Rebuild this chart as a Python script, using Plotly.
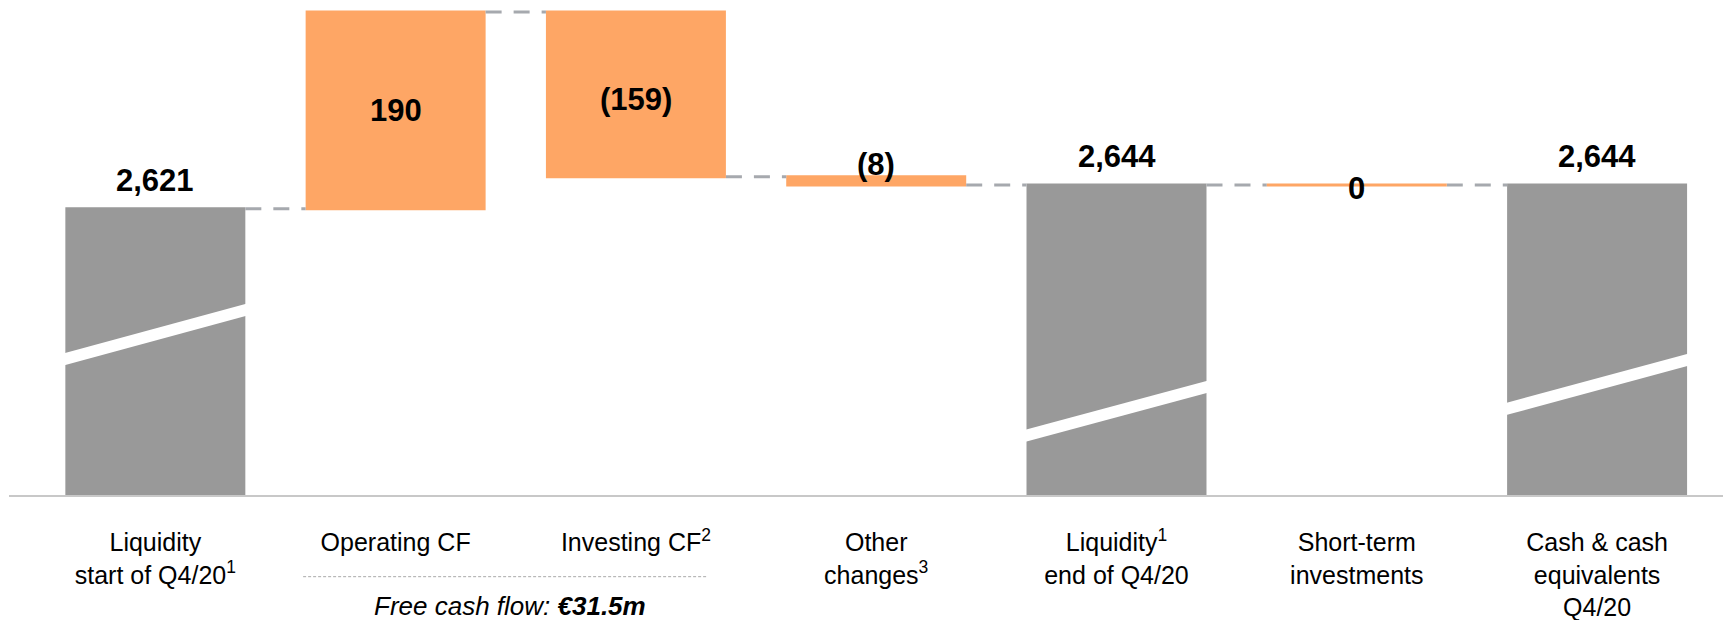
import plotly.graph_objects as go

# ---------------- data ----------------
categories = [
    "Liquidity<br>start of Q4/20<sup>1</sup>",
    "Operating CF",
    "Investing CF<sup>2</sup>",
    "Other<br>changes<sup>3</sup>",
    "Liquidity<sup>1</sup><br>end of Q4/20",
    "Short-term<br>investments",
    "Cash & cash<br>equivalents<br>Q4/20",
]
values = [2621, 190, -159, -8, 2644, 0, 2644]
measures = ["absolute", "relative", "relative", "relative", "total", "relative", "total"]
free_cash_flow = 31.5

# ---------------- styles ----------------
ORANGE = "#FEA665"
GREY = "#999999"
CONNECTOR = "#A6A9AE"
FONT = "Arial, Liberation Sans, sans-serif"
BAR_W = 0.749

label_mode = ["above", "inside", "inside", "above", "above", "center", "above"]
label_shift = [9, 0, -5, -7, 9, -4, 9]

# running levels (for label placement)
starts, ends = [], []
running = 0
for v, m in zip(values, measures):
    if m == "absolute":
        s, e = 0, v
        running = v
    elif m == "total":
        s, e = 0, running
    else:
        s, e = running, running + v
        running = e
    starts.append(s)
    ends.append(e)


def fmt(v, m):
    if m in ("absolute", "total"):
        return f"{v:,}"
    return f"({abs(v):,})" if v < 0 else f"{v:,}"


fig = go.Figure()
fig.add_trace(go.Waterfall(
    x=categories,
    y=values,
    measure=measures,
    width=BAR_W,
    textinfo="none",
    hoverinfo="skip",
    increasing=dict(marker=dict(color=ORANGE, line=dict(width=0))),
    decreasing=dict(marker=dict(color=ORANGE, line=dict(width=0))),
    totals=dict(marker=dict(color=GREY, line=dict(width=0))),
    connector=dict(mode="between", line=dict(color=CONNECTOR, width=3, dash="16px,12px")),
))

annotations = []
for i, (v, m) in enumerate(zip(values, measures)):
    txt = "<b>" + fmt(ends[i] if m != "relative" else v, m) + "</b>"
    mode = label_mode[i]
    if mode == "above":
        y = max(starts[i], ends[i])
        ya = "bottom"
    elif mode == "inside":
        y = (starts[i] + ends[i]) / 2
        ya = "middle"
    else:
        y = ends[i]
        ya = "middle"
    annotations.append(dict(
        x=i, y=y, xref="x", yref="y", text=txt, showarrow=False,
        yanchor=ya, xanchor="center", yshift=label_shift[i],
        font=dict(family=FONT, size=31, color="#000000"),
    ))

annotations.append(dict(
    x=1.476, y=-0.224, xref="x", yref="paper",
    text=f"<i>Free cash flow: <b>€{free_cash_flow}m</b></i>",
    showarrow=False, xanchor="center", yanchor="middle",
    font=dict(family=FONT, size=26, color="#000000"),
))

shapes = [
    # dotted bracket under Operating/Investing CF
    dict(type="line", xref="x", yref="paper", x0=0.615, x1=2.296, y0=-0.165, y1=-0.165,
         line=dict(color="#AAAAAA", width=1, dash="3px,2px")),
]
# zero-size movements drawn as a thin line at their level
for i, (v, m) in enumerate(zip(values, measures)):
    if m == "relative" and v == 0:
        shapes.append(dict(type="line", xref="x", yref="y",
                           x0=i - BAR_W / 2, x1=i + BAR_W / 2, y0=ends[i], y1=ends[i],
                           line=dict(color=ORANGE, width=3)))
# axis-break marks on the total bars
breaks = {0: (0.2715, 0.377), 4: (0.117, 0.2214), 6: (0.1709, 0.276)}
for i, (yl, yr) in breaks.items():
    shapes.append(dict(type="line", xref="x", yref="paper", x0=i - 0.4, x1=i + 0.4,
                       y0=yl, y1=yr, line=dict(color="white", width=11.8)))

fig.update_layout(
    width=1723, height=620,
    margin=dict(l=9, r=0, t=0, b=125, autoexpand=False),
    paper_bgcolor="white", plot_bgcolor="white",
    showlegend=False,
    annotations=annotations,
    shapes=shapes,
    xaxis=dict(
        type="category", range=[-0.609, 6.524],
        showline=True, linecolor="#C8C8C8", linewidth=2,
        showgrid=False, zeroline=False, ticks="",
        ticklabelstandoff=24, automargin=False,
        tickfont=dict(family=FONT, size=25, color="#000000"),
        fixedrange=True,
    ),
    yaxis=dict(
        range=[2344.4, 2822.7], visible=False, showgrid=False, zeroline=False,
        fixedrange=True, automargin=False,
    ),
)

fig.write_html("out.html")
